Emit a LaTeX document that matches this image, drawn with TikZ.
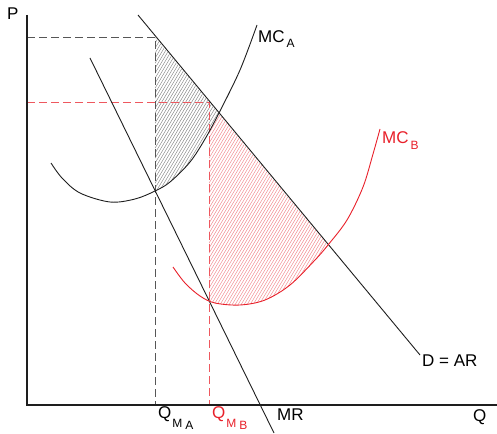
\documentclass[tikz,border=0pt]{standalone}
\usepackage{fontspec}
\setmainfont{Liberation Sans}
\definecolor{ln}{HTML}{1E1E1E}
\definecolor{rd}{HTML}{E8202A}
\def\MCA{plot[smooth,tension=0.55] coordinates {(51,163) (62,178) (80,193) (110,202) (135,199) (155,191) (170,182) (190,162) (205,139) (219,113) (240,70) (257,25)}}
\def\MCB{plot[smooth,tension=0.55] coordinates {(173,267) (185,283) (200,296) (215,303) (240,305) (265,300) (290,285) (315,260) (328,245) (347,220) (363,187) (373,154) (380,129)}}
\newcommand{\smallA}{\fontsize{12}{12}\selectfont}
\begin{document}
\begin{tikzpicture}[x=1pt,y=-1pt,
  curve/.style={line width=0.9pt, draw=ln},
  rcurve/.style={line width=0.9pt, draw=rd},
  axis/.style={line width=1.1pt, draw=ln},
  dashk/.style={line width=0.8pt, draw=ln!75, dash pattern=on 8pt off 4pt},
  dashr/.style={line width=0.8pt, draw=rd!75, dash pattern=on 8pt off 4pt},
  hatchk/.style={line width=0.45pt, draw=ln!55},
  hatchr/.style={line width=0.45pt, draw=rd!55},
  lbl/.style={inner sep=0pt, anchor=base west, font=\fontsize{17}{20}\selectfont}]
\useasboundingbox (0,0) rectangle (497,433);

% coordinates
\coordinate (O) at (27,405);
\coordinate (Ptop) at (27,15);
\coordinate (Qend) at (497,405);
\coordinate (Dtop) at (138,15);
\coordinate (Dend) at (420,355);
\coordinate (MRtop) at (90,58);
\coordinate (MRend) at (274,433);
\coordinate (PA) at (27,37);
\coordinate (EA) at (155,37);
\coordinate (QA) at (155,405);
\coordinate (PB) at (27,102);
\coordinate (EB) at (209,102);
\coordinate (QB) at (209,405);

% black hatched region
\begin{scope}
  \clip (155,37) -- (374,300) -- (155,300) -- cycle;
  \clip \MCA -- (257,0) -- (51,0) -- cycle;
  \foreach \i in {-250,-247,...,450} \draw[hatchk] (\i,433) -- ++(260,-433);
\end{scope}

% red hatched region
\begin{scope}
  \clip (209,102) -- (457,400) -- (209,400) -- cycle;
  \clip \MCA -- (497,25) -- (497,433) -- (51,433) -- cycle;
  \clip \MCB -- (380,0) -- (173,0) -- cycle;
  \foreach \i in {-250,-247,...,450} \draw[hatchr] (\i,433) -- ++(260,-433);
\end{scope}

% dashed guides
\draw[dashk] (PA) -- (EA) -- (QA);
\draw[dashr] (PB) -- (EB) -- (QB);

% axes
\draw[axis] (Ptop) -- (O) -- (Qend);

% demand and MR
\draw[curve] (Dtop) -- (Dend);
\draw[curve] (MRtop) -- (MRend);

% cost curves
\draw[curve] \MCA;
\draw[rcurve] \MCB;

% labels
\node[lbl] (lP) at (7,20) {P};
\node[lbl] (lQ) at (473,421) {Q};
\node[lbl] (lD) at (422,366) {D = AR};
\node[lbl] (lMR) at (277,420) {MR};
\node[lbl] (lMCA) at (258,43) {MC\kern2pt\raisebox{-5pt}{\smallA A}};
\node[lbl, text=rd] (lMCB) at (382,143) {MC\kern2pt\raisebox{-6pt}{\smallA B}};
\node[lbl] (lQA) at (158,418) {Q\kern1pt\raisebox{-9pt}{\smallA M\kern3pt\raisebox{-2.5pt}{A}}};
\node[lbl, text=rd] (lQB) at (212,418) {Q\kern1pt\raisebox{-9pt}{\smallA M\kern3pt\raisebox{-2.5pt}{B}}};
\end{tikzpicture}
\end{document}
